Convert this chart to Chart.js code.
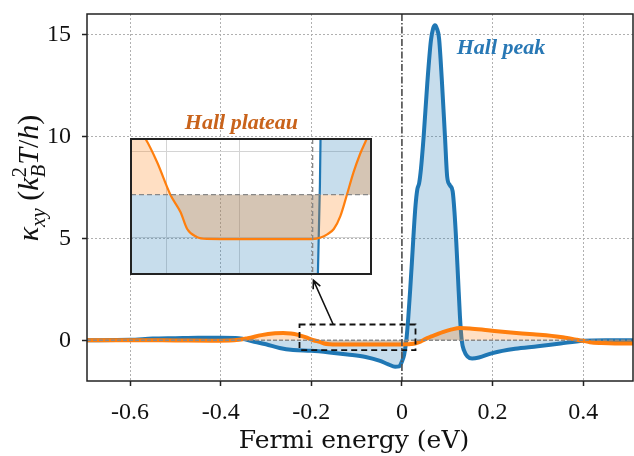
<!DOCTYPE html>
<html>
<head>
<meta charset="utf-8">
<script src="https://cdn.jsdelivr.net/npm/chart.js@4.4.1/dist/chart.umd.min.js"></script>
<style>
  html, body { margin: 0; padding: 0; background: #fff; }
  #wrap { position: relative; width: 634px; height: 456px; }
  #main { position: absolute; left: 0; top: 0; }
  #inset { position: absolute; left: 130px; top: 138px; }
</style>
</head>
<body>
<div id="wrap">
  <canvas id="main" width="634" height="456"></canvas>
  <canvas id="inset" width="242" height="137"></canvas>
</div>
<script>
// -------------------- Data --------------------
const blueEnergy = [-0.7, -0.6, -0.55, -0.5, -0.45, -0.4, -0.36, -0.33, -0.3, -0.27,
  -0.24, -0.2, -0.16, -0.12, -0.08, -0.05, -0.03, -0.015, -0.006, 0.0,
  0.005, 0.01, 0.014, 0.018, 0.022, 0.026, 0.03, 0.034, 0.038, 0.042,
  0.048, 0.056, 0.064, 0.069, 0.073, 0.077, 0.082, 0.088, 0.095, 0.1,
  0.106, 0.112, 0.116, 0.12, 0.124, 0.128, 0.132, 0.137, 0.145, 0.155,
  0.17, 0.2, 0.25, 0.3, 0.35, 0.4, 0.45, 0.51];
const blueKappa = [0, 0.02, 0.08, 0.1, 0.12, 0.12, 0.1, -0.05, -0.2, -0.38,
  -0.48, -0.52, -0.6, -0.7, -0.82, -1.0, -1.18, -1.3, -1.28, -1.05,
  -0.7, 0.05, 1.1, 2.4, 3.8, 5.3, 6.6, 7.4, 7.7, 8.4,
  10.0, 12.6, 14.7, 15.3, 15.45, 15.3, 14.8, 12.8, 10.0, 8.0,
  7.6, 7.3, 6.3, 4.8, 3.0, 1.2, 0.0, -0.5, -0.8, -0.9,
  -0.85, -0.63, -0.42, -0.3, -0.16, -0.03, 0, 0];

const orangeEnergy = [-0.7, -0.6, -0.5, -0.42, -0.37, -0.34, -0.31, -0.28, -0.262, -0.245,
  -0.229, -0.213, -0.195, -0.181, -0.172, -0.159, -0.145, -0.1, -0.05, 0.0,
  0.011, 0.02, 0.029, 0.038, 0.047, 0.056, 0.065, 0.074, 0.09, 0.11,
  0.128, 0.15, 0.19, 0.24, 0.29, 0.35, 0.385, 0.4, 0.415, 0.44, 0.47, 0.51];
const orangeKappa = [0, 0, -0.01, -0.02, 0, 0.1, 0.25, 0.34, 0.36, 0.33,
  0.26, 0.15, 0, -0.082, -0.16, -0.197, -0.206, -0.207, -0.207, -0.207,
  -0.2, -0.185, -0.16, -0.1, 0, 0.104, 0.19, 0.26, 0.4, 0.53,
  0.6, 0.58, 0.49, 0.38, 0.29, 0.16, 0.03, -0.03, -0.1, -0.14, -0.16, -0.16];

const xTicks = [-0.6, -0.4, -0.2, 0, 0.2, 0.4];
const yTicks = [0, 5, 10, 15];
const insetXTicks = [-0.2, -0.1, 0];
const insetYTicks = [-0.2, 0, 0.2];

const peakLabel = 'Hall peak';
const plateauLabel = 'Hall plateau';
const xTitle = 'Fermi energy (eV)';

// zoom window shown in the inset
const zoomX = [-0.226, 0.03];
const zoomY = [-0.49, 0.77];

const BLUE = '#1f77b4';
const ORANGE = '#ff7f0e';

const toPoints = (xs, ys) => xs.map((x, i) => ({ x: x, y: ys[i] }));

function seriesConfig(width) {
    return [
        {
            label: plateauLabel,
            data: toPoints(orangeEnergy, orangeKappa),
            borderColor: ORANGE,
            backgroundColor: 'rgba(255,127,14,0.25)',
            fill: 'origin',
            borderWidth: width,
            pointRadius: 0,
            cubicInterpolationMode: 'monotone'
        },
        {
            label: peakLabel,
            data: toPoints(blueEnergy, blueKappa),
            borderColor: BLUE,
            backgroundColor: 'rgba(31,119,180,0.25)',
            fill: 'origin',
            borderWidth: width,
            pointRadius: 0,
            cubicInterpolationMode: 'monotone'
        }
    ];
}

// -------------------- Main chart decorations --------------------
function drawYTitle(ctx) {
    const M = 30, S = 21;
    const it = s => `italic ${s}px "Liberation Serif"`;
    const rg = s => `${s}px "Liberation Serif"`;
    const parts = [
        { t: 'κ', f: it(M), v: 0 },
        { t: 'xy', f: it(S), v: 7 },
        { t: ' (', f: rg(M), v: 0 },
        { t: 'k', f: it(M), v: 0 },
        { stack: [{ t: '2', f: rg(S), v: -12 }, { t: 'B', f: it(S), v: 7 }] },
        { t: 'T', f: it(M), v: 0 },
        { t: '/', f: rg(M), v: 0 },
        { t: 'h', f: it(M), v: 0 },
        { t: ')', f: rg(M), v: 0 }
    ];
    const widthOf = p => {
        if (p.stack) return Math.max(...p.stack.map(widthOf));
        ctx.font = p.f;
        return ctx.measureText(p.t).width;
    };
    const total = parts.reduce((a, p) => a + widthOf(p), 0);
    ctx.save();
    ctx.translate(38, 178);
    ctx.rotate(-Math.PI / 2);
    ctx.fillStyle = '#111';
    ctx.textBaseline = 'alphabetic';
    ctx.textAlign = 'left';
    let u = -total / 2;
    parts.forEach(p => {
        const w = widthOf(p);
        (p.stack || [p]).forEach(q => {
            ctx.font = q.f;
            ctx.fillText(q.t, u, q.v);
        });
        u += w;
    });
    ctx.restore();
}

const mainDecor = {
    id: 'mainDecor',
    afterDatasetsDraw(chart) {
        const { ctx, chartArea: a, scales: { x, y } } = chart;
        ctx.save();
        // zero reference lines
        ctx.strokeStyle = '#8a8a8a';
        ctx.lineWidth = 1.5;
        ctx.setLineDash([4, 2]);
        ctx.beginPath();
        ctx.moveTo(a.left, y.getPixelForValue(0));
        ctx.lineTo(a.right, y.getPixelForValue(0));
        ctx.stroke();
        ctx.strokeStyle = '#555';
        ctx.lineWidth = 1.7;
        ctx.setLineDash([7, 2, 1.5, 2]);
        ctx.beginPath();
        ctx.moveTo(x.getPixelForValue(0), a.top);
        ctx.lineTo(x.getPixelForValue(0), a.bottom);
        ctx.stroke();

        // zoom window
        ctx.strokeStyle = '#111';
        ctx.lineWidth = 1.8;
        ctx.setLineDash([6, 4]);
        const bx0 = x.getPixelForValue(zoomX[0]), bx1 = x.getPixelForValue(zoomX[1]);
        const by0 = y.getPixelForValue(zoomY[1]), by1 = y.getPixelForValue(zoomY[0]);
        ctx.strokeRect(bx0, by0, bx1 - bx0, by1 - by0);

        // arrow from window to inset
        ctx.setLineDash([]);
        ctx.lineWidth = 1.6;
        const tx = x.getPixelForValue(-0.1516), ty = y.getPixelForValue(zoomY[1]);
        const hx = x.getPixelForValue(-0.1953), hy = y.getPixelForValue(2.94);
        const ang = Math.atan2(hy - ty, hx - tx);
        ctx.beginPath();
        ctx.moveTo(tx, ty);
        ctx.lineTo(hx, hy);
        ctx.moveTo(hx - 9 * Math.cos(ang - 0.45), hy - 9 * Math.sin(ang - 0.45));
        ctx.lineTo(hx, hy);
        ctx.lineTo(hx - 9 * Math.cos(ang + 0.45), hy - 9 * Math.sin(ang + 0.45));
        ctx.stroke();

        // frame
        ctx.strokeStyle = '#222';
        ctx.lineWidth = 1.5;
        ctx.strokeRect(a.left, a.top, a.right - a.left, a.bottom - a.top);
        ctx.restore();
    },
    afterDraw(chart) {
        const { ctx, scales: { x, y } } = chart;
        ctx.save();
        ctx.textAlign = 'left';
        ctx.textBaseline = 'alphabetic';
        ctx.font = 'bold italic 22px "Liberation Serif"';
        ctx.fillStyle = '#2878b5';
        ctx.fillText(peakLabel, x.getPixelForValue(0.121), y.getPixelForValue(14.06));
        ctx.fillStyle = '#c9631b';
        ctx.fillText(plateauLabel, x.getPixelForValue(-0.479), y.getPixelForValue(10.38));

        ctx.fillStyle = '#111';
        ctx.textAlign = 'center';
        ctx.font = '25px "DejaVu Serif"';
        ctx.fillText(xTitle, 354, 448);
        drawYTitle(ctx);
        ctx.restore();
    }
};

const tickFmt = v => Math.abs(v) < 1e-9 ? '0' : (Number.isInteger(v) ? String(v) : v.toFixed(1));
const hideZero = c => (c.tick && Math.abs(c.tick.value) < 1e-9) ? 'rgba(0,0,0,0)' : '#b0b0b0';

new Chart(document.getElementById('main'), {
    type: 'line',
    data: { datasets: seriesConfig(4) },
    options: {
        responsive: false,
        animation: false,
        devicePixelRatio: 1,
        layout: { padding: { left: 0, top: 14, right: 1, bottom: 0 } },
        plugins: { legend: { display: false }, tooltip: { enabled: false } },
        scales: {
            x: {
                type: 'linear',
                min: -0.695,
                max: 0.51,
                afterBuildTicks: s => { s.ticks = xTicks.map(v => ({ value: v })); },
                afterFit: s => { s.height = 75; s.paddingLeft = 0; s.paddingRight = 0; },
                ticks: { callback: tickFmt, font: { family: 'Liberation Serif', size: 24 }, color: '#111', padding: 12, maxRotation: 0 },
                grid: { color: hideZero, lineWidth: 1, tickColor: '#222', tickLength: 5, tickWidth: 1.5 },
                border: { display: false, dash: [2, 2] }
            },
            y: {
                type: 'linear',
                min: -2,
                max: 16,
                afterBuildTicks: s => { s.ticks = yTicks.map(v => ({ value: v })); },
                afterFit: s => { s.width = 87; s.paddingTop = 0; s.paddingBottom = 0; },
                ticks: { callback: tickFmt, font: { family: 'Liberation Serif', size: 24 }, color: '#111', padding: 11 },
                grid: { color: hideZero, lineWidth: 1, tickColor: '#222', tickLength: 5, tickWidth: 1.5 },
                border: { display: false, dash: [2, 2] }
            }
        }
    },
    plugins: [mainDecor]
});

// -------------------- Inset --------------------
const insetDecor = {
    id: 'insetDecor',
    afterDatasetsDraw(chart) {
        const { ctx, chartArea: a, scales: { x, y } } = chart;
        ctx.save();
        ctx.strokeStyle = '#888';
        ctx.lineWidth = 1.3;
        ctx.setLineDash([5, 3]);
        ctx.beginPath();
        ctx.moveTo(a.left, y.getPixelForValue(0));
        ctx.lineTo(a.right, y.getPixelForValue(0));
        ctx.moveTo(x.getPixelForValue(0), a.top);
        ctx.lineTo(x.getPixelForValue(0), a.bottom);
        ctx.stroke();
        ctx.setLineDash([]);
        ctx.strokeStyle = '#222';
        ctx.lineWidth = 2;
        ctx.strokeRect(a.left, a.top, a.right - a.left, a.bottom - a.top);
        ctx.restore();
    }
};

const insetGrid = c => (c.tick && Math.abs(c.tick.value) < 1e-9) ? 'rgba(0,0,0,0)' : '#d4d4d4';

new Chart(document.getElementById('inset'), {
    type: 'line',
    data: { datasets: seriesConfig(2.2).map(d => Object.assign(d, { clip: 0 })) },
    options: {
        responsive: false,
        animation: false,
        devicePixelRatio: 1,
        layout: { padding: 1 },
        plugins: { legend: { display: false }, tooltip: { enabled: false } },
        scales: {
            x: {
                type: 'linear',
                min: -0.249,
                max: 0.08,
                afterBuildTicks: s => { s.ticks = insetXTicks.map(v => ({ value: v })); },
                afterFit: s => { s.height = 0; s.paddingLeft = 0; s.paddingRight = 0; },
                ticks: { display: false },
                grid: { color: insetGrid, drawTicks: false, lineWidth: 1 },
                border: { display: false }
            },
            y: {
                type: 'linear',
                min: -0.37,
                max: 0.26,
                afterBuildTicks: s => { s.ticks = insetYTicks.map(v => ({ value: v })); },
                afterFit: s => { s.width = 0; s.paddingTop = 0; s.paddingBottom = 0; },
                ticks: { display: false },
                grid: { color: insetGrid, drawTicks: false, lineWidth: 1 },
                border: { display: false }
            }
        }
    },
    plugins: [insetDecor]
});
</script>
</body>
</html>
